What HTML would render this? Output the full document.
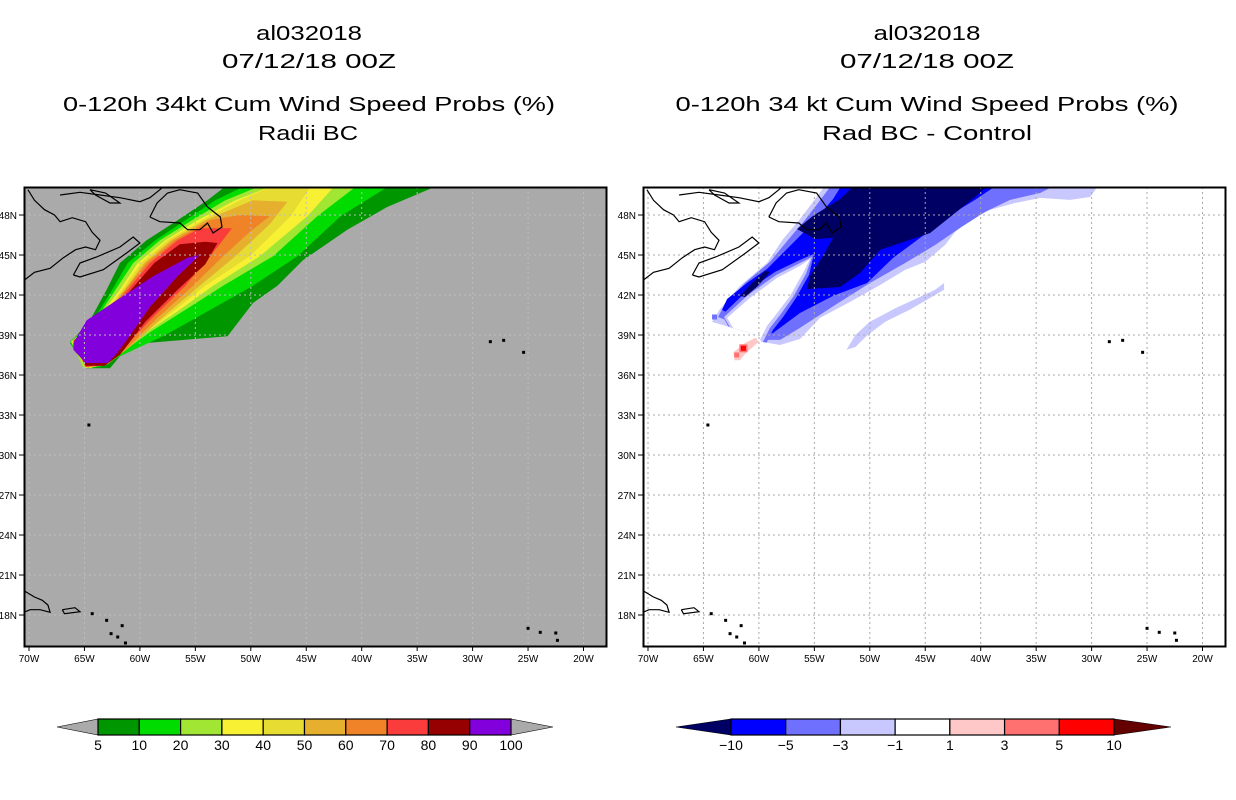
<!DOCTYPE html>
<html><head><meta charset="utf-8"><style>
html,body{margin:0;padding:0;background:#fff;}
svg{display:block;font-family:"Liberation Sans",sans-serif;}
</style></head><body>
<svg id="root" width="1236" height="800" viewBox="0 0 1236 800" xmlns="http://www.w3.org/2000/svg">
<defs>
<clipPath id="clipL"><rect x="25" y="188" width="582" height="459"/></clipPath>
<clipPath id="clipR"><rect x="644" y="188" width="582" height="459"/></clipPath>
<clipPath id="clipEnv"><polygon id="envClipPoly" points=""/></clipPath>
</defs>
<g font-size="20" text-anchor="middle" fill="#000">
<text x="309" y="40" textLength="106" lengthAdjust="spacingAndGlyphs">al032018</text>
<text x="309" y="68" textLength="174" lengthAdjust="spacingAndGlyphs">07/12/18 00Z</text>
<text x="309" y="111" textLength="492" lengthAdjust="spacingAndGlyphs">0-120h 34kt Cum Wind Speed Probs (%)</text>
<text x="308" y="140" textLength="100" lengthAdjust="spacingAndGlyphs">Radii BC</text>
</g>
<g font-size="20" text-anchor="middle" fill="#000">
<text x="927" y="40" textLength="107" lengthAdjust="spacingAndGlyphs">al032018</text>
<text x="927" y="68" textLength="174" lengthAdjust="spacingAndGlyphs">07/12/18 00Z</text>
<text x="927" y="111" textLength="503" lengthAdjust="spacingAndGlyphs">0-120h 34 kt Cum Wind Speed Probs (%)</text>
<text x="927" y="140" textLength="210" lengthAdjust="spacingAndGlyphs">Rad BC - Control</text>
</g>
<g id="panelL"></g>
<g id="panelR"></g>
<g id="cbL"></g>
<g id="cbR"></g>
</svg>
<script>
// ---- data ----
const lonTicks = [-70,-65,-60,-55,-50,-45,-40,-35,-30,-25,-20];
const lonTickLabels = ["70W","65W","60W","55W","50W","45W","40W","35W","30W","25W","20W"];
const latTicks = [18,21,24,27,30,33,36,39,42,45,48];
const latTickLabels = ["18N","21N","24N","27N","30N","33N","36N","39N","42N","45N","48N"];

const probLevels = [5,10,20,30,40,50,60,70,80,90,100];
const probColors = ["#009600","#00dc00","#a0e632","#f8f032","#e6dc32","#e6af2d","#f08228","#fa3c3c","#960000","#8200dc"];
const probContour5 = [[-66.3,38.4],[-64.5,40.1],[-63.0,42.4],[-61.8,44.4],[-59.4,46.1],[-56.6,47.6],[-53.9,49.1],[-51.9,50.4],[-32.6,50.4],[-37.7,48.6],[-41.3,46.9],[-45.3,44.6],[-47.6,42.7],[-49.8,41.4],[-52.1,38.9],[-59.4,38.4],[-61.8,37.4],[-62.7,36.5],[-64.8,36.5]];
const probContour10 = [[-66.3,38.5],[-64.2,40.1],[-62.5,42.4],[-61.1,44.4],[-58.6,46.1],[-55.9,47.6],[-53.2,49.1],[-50.0,50.4],[-37.1,50.4],[-41.9,47.9],[-45.8,44.9],[-49.8,42.7],[-53.2,41.1],[-57.7,39.0],[-61.8,37.4],[-63.6,36.6],[-65.0,36.5]];
const probContour20 = [[-66.2,38.5],[-64.0,40.1],[-62.2,42.4],[-60.6,44.4],[-58.2,46.1],[-55.3,47.6],[-52.3,49.1],[-48.5,50.4],[-40.1,50.4],[-44.0,47.9],[-48.0,44.9],[-52.5,42.7],[-55.5,41.1],[-59.1,39.2],[-62.1,37.4],[-64.0,36.6],[-65.1,36.5]];
const probContour30 = [[-66.2,38.5],[-63.9,40.1],[-61.8,42.4],[-60.2,44.4],[-57.7,46.1],[-54.8,47.6],[-51.4,49.1],[-47.4,50.4],[-42.2,50.4],[-44.9,47.9],[-49.2,44.9],[-53.4,42.7],[-56.4,40.9],[-60.0,38.9],[-62.5,37.1],[-64.5,36.5]];
const probContour40 = [[-66.1,38.5],[-63.7,40.1],[-61.6,42.4],[-59.9,44.4],[-57.5,46.1],[-54.4,47.6],[-51.0,49.1],[-47.4,50.4],[-44.4,50.4],[-46.4,47.9],[-50.1,44.9],[-54.1,42.7],[-57.1,40.7],[-60.4,38.6],[-62.7,37.0],[-64.9,36.5]];
const probContour50 = [[-66.1,38.5],[-63.6,40.1],[-61.4,42.4],[-59.6,44.4],[-57.2,46.1],[-54.1,47.6],[-49.8,49.1],[-46.7,49.0],[-48.3,47.3],[-51.4,44.9],[-54.6,42.7],[-57.7,40.5],[-60.9,38.1],[-62.9,36.8],[-64.9,36.6]];
const probContour60 = [[-66.0,38.5],[-63.5,40.1],[-61.3,42.4],[-59.4,44.4],[-56.9,46.1],[-53.7,47.6],[-51.0,48.0],[-48.3,47.9],[-50.0,46.8],[-52.5,44.9],[-55.2,42.7],[-58.4,40.3],[-61.3,37.9],[-63.1,36.8],[-64.9,36.6]];
const probContour70 = [[-66.0,38.6],[-63.4,40.1],[-61.1,42.4],[-59.1,44.4],[-56.6,46.1],[-54.6,47.0],[-51.7,47.0],[-52.8,45.8],[-53.7,44.9],[-55.9,42.7],[-59.1,40.1],[-61.6,37.9],[-63.2,36.7],[-64.9,36.6]];
const probContour80 = [[-65.9,38.6],[-63.2,40.1],[-60.8,42.4],[-58.7,44.4],[-56.4,45.8],[-54.1,46.0],[-53.0,45.9],[-54.1,44.3],[-56.6,42.4],[-59.5,40.0],[-61.8,37.5],[-63.2,36.7],[-64.9,36.7]];
const probContour90 = [[-66.0,38.4],[-64.8,40.1],[-62.1,41.6],[-58.8,43.4],[-55.7,44.8],[-54.6,45.0],[-56.6,43.4],[-59.1,41.1],[-61.2,38.6],[-62.1,37.6],[-62.9,36.9],[-64.9,36.9],[-66.0,37.9]];
const probContours = [probContour5,probContour10,probContour20,probContour30,probContour40,probContour50,probContour60,probContour70,probContour80,probContour90];

const diffLevels = [-10,-5,-3,-1,1,3,5,10];
const diffColors = ["#0000ff","#7070ff","#c8c8ff","#ffffff","#ffc8c8","#ff7070","#ff0000"];
const diffUnderColor = "#000064", diffOverColor = "#640000";
const diffEnvelope1 = [[-64.23,39.98],[-63.51,40.95],[-61.70,42.68],[-59.27,44.4],[-57.82,46.2],[-56.29,47.7],[-55.39,48.68],[-53.85,50.4],[-29.23,50.4],[-30.13,49.35],[-31.94,49.13],[-34.64,49.28],[-36.90,48.9],[-39.15,48.38],[-40.96,47.63],[-42.31,46.73],[-43.21,45.75],[-45.01,44.48],[-46.82,43.88],[-49.07,42.75],[-51.78,41.48],[-54.49,40.28],[-56.29,38.7],[-58.09,38.25],[-59.72,38.48],[-60.17,39.0]];
const diffTongue1 = [[-52.1,37.9],[-51.3,39.0],[-50.0,40.0],[-47.7,41.0],[-45.5,41.85],[-44.1,42.4],[-43.3,42.9],[-43.3,42.4],[-44.1,42.0],[-46.4,40.9],[-48.6,40.0],[-50.2,39.0],[-51.3,38.1]];
const diffEnvelope3 = [[-63.69,40.35],[-63.05,41.33],[-61.25,42.9],[-59.0,44.48],[-57.37,46.13],[-55.84,47.63],[-54.67,48.9],[-53.31,50.4],[-32.84,50.4],[-34.64,49.65],[-37.35,49.13],[-39.60,48.23],[-41.86,47.03],[-44.11,45.75],[-46.82,44.4],[-49.98,42.9],[-53.13,41.25],[-56.29,39.53],[-58.09,38.63],[-59.45,38.63],[-59.90,39.15]];
const diffEnvelope5 = [[-63.33,40.88],[-62.87,41.7],[-61.07,42.9],[-59.27,43.95],[-57.19,45.68],[-55.39,47.18],[-53.31,49.2],[-52.41,50.4],[-38.25,50.4],[-40.51,49.13],[-42.76,48.0],[-45.46,46.28],[-47.90,44.78],[-50.25,42.9],[-53.31,41.93],[-56.29,40.65],[-58.73,39.15],[-59.72,38.93],[-59.90,39.38]];
const diffGap3 = [[-63.33,40.5],[-61.16,42.23],[-58.54,43.73],[-56.29,44.63],[-55.03,45.08],[-55.48,43.5],[-56.65,41.78],[-57.82,40.35],[-58.73,39.38],[-59.36,38.33],[-61.70,38.03]];
const diffGap1 = [[-63.15,40.35],[-60.98,42.0],[-58.45,43.5],[-56.29,44.4],[-55.21,44.85],[-55.75,43.58],[-56.92,41.85],[-58.09,40.5],[-59.0,39.53],[-59.63,38.48],[-61.70,38.25]];
const diffGap0 = [[-62.87,40.28],[-60.80,41.78],[-58.36,43.28],[-56.29,44.18],[-55.39,44.7],[-56.02,43.65],[-57.19,41.93],[-58.36,40.65],[-59.27,39.68],[-59.90,38.63],[-61.70,38.63]];
const diffEnvelope10 = [[-56.56,46.95],[-55.12,47.93],[-52.68,49.2],[-51.15,50.4],[-39.15,50.4],[-40.51,49.35],[-42.31,48.15],[-44.56,46.65],[-49.07,45.38],[-50.88,43.65],[-52.68,42.6],[-55.66,42.45],[-55.39,43.43],[-54.22,44.93],[-53.31,46.28],[-54.94,46.2]];
const diffStreak10 = [[-61.70,41.93],[-60.62,42.9],[-59.45,43.8],[-59.0,43.73],[-60.08,42.68],[-61.25,41.85]];
const diffPositive1 = [[-62.2,37.1],[-62.3,37.7],[-61.25,38.4],[-60.3,38.8],[-60.0,38.5],[-61.15,37.65],[-61.7,37.1]];
const diffSpots = [[-61.4,38.0,5],[-62.0,37.5,3],[-64.0,40.35,-3]];

const coastNovaScotia = [[-66.0,43.5],[-65.4,44.4],[-63.9,44.85],[-61.8,45.6],[-60.6,46.35],[-60.0,45.9],[-61.2,45.15],[-63.3,43.9],[-65.4,43.35],[-66.0,43.5]];
const coastNewfoundland = [[-59.1,47.85],[-58.45,48.9],[-57.5,49.65],[-56.4,49.9],[-54.8,49.65],[-53.9,48.6],[-52.75,47.85],[-52.6,47.1],[-53.4,46.65],[-53.9,47.4],[-54.6,46.9],[-55.7,46.9],[-56.4,47.4],[-58.2,47.5],[-59.1,47.85]];
const coastMainland = [[-70.6,43.0],[-69.5,43.7],[-68.1,44.0],[-66.9,44.8],[-65.8,45.4],[-64.9,45.6],[-64.0,45.4],[-63.6,46.1],[-64.3,46.7],[-64.9,47.5],[-66.1,47.8],[-67.2,47.5],[-67.7,48.0],[-68.6,48.4],[-69.5,49.1],[-70.1,49.9]];
const coastLabrador = [[-67.2,49.5],[-65.4,49.7],[-63.6,49.5],[-61.8,49.3],[-60.0,49.0],[-59.1,49.3],[-58.2,49.9],[-57.3,50.6]];
const coastAnticosti = [[-64.5,49.9],[-63.1,49.65],[-61.8,48.9],[-62.7,48.9],[-64.0,49.5],[-64.5,49.9]];
const coastHispaniola = [[-70.6,19.9],[-69.5,19.35],[-68.8,19.1],[-68.3,18.75],[-68.1,18.2],[-69.0,18.4],[-69.9,18.4],[-70.6,18.15]];
const coastPuertoRico = [[-67.0,18.4],[-65.85,18.55],[-65.4,18.25],[-66.8,18.1],[-67.0,18.4]];
const islandDots = [[-64.6,32.25],[-28.4,38.5],[-27.2,38.6],[-25.4,37.7],[-63.0,17.6],[-62.6,16.6],[-62.0,16.35],[-61.6,17.2],[-61.3,15.9],[-25.0,17.0],[-23.9,16.7],[-22.5,16.65],[-22.35,16.1],[-64.3,18.1]];

// ---- drawing ----
const NS = "http://www.w3.org/2000/svg";
function mk(tag, attrs, parent){ const e=document.createElementNS(NS,tag); for(const k in attrs) e.setAttribute(k,attrs[k]); parent.appendChild(e); return e; }
function makeProj(x0){ return { x: lon => x0 + (lon+70)*11.09, y: lat => 215 + (48-lat)*13.333 }; }
function pts(p, poly){ return poly.map(q => p.x(q[0]).toFixed(1)+","+p.y(q[1]).toFixed(1)).join(" "); }

function drawFrameAndAxes(g, p, left, gridColor, clipId){
  const top=187, bottom=647, right=left+583;
  const grid = mk("g",{"stroke":gridColor,"stroke-width":1,"stroke-dasharray":"2,3","fill":"none"},g);
  
  
  lonTicks.forEach(l => { const x=p.x(l); mk("line",{x1:x,y1:top,x2:x,y2:bottom},grid); });
  latTicks.forEach(l => { const y=p.y(l); mk("line",{x1:left,y1:y,x2:right,y2:y},grid); });
  const coast = mk("g",{"stroke":"#000","stroke-width":1.2,"fill":"none","clip-path":"url(#"+clipId+")"},g);
  
  
  [coastNovaScotia,coastNewfoundland,coastMainland,coastLabrador,coastAnticosti,coastHispaniola,coastPuertoRico].forEach(c => mk("polyline",{points:pts(p,c)},coast));
  islandDots.forEach(d => mk("rect",{x:p.x(d[0])-1.5,y:p.y(d[1])-1.5,width:3,height:3,fill:"#000",stroke:"none"},coast));
  const frame = mk("rect",{x:left+0.5,y:top+0.5,width:582,height:459,fill:"none",stroke:"#000","stroke-width":2},g);
  
  
  const ax = mk("g",{"font-size":10,"fill":"#000"},g);
  
  
  latTicks.forEach((l,i) => {
    const y=p.y(l);
    mk("line",{x1:left-5,y1:y,x2:left,y2:y,stroke:"#000"},ax);
    const t=mk("text",{x:left-7,y:y+4,"text-anchor":"end"},ax); t.textContent=latTickLabels[i];
    
    
  });
  lonTicks.forEach((l,i) => {
    const x=p.x(l);
    mk("line",{x1:x,y1:bottom,x2:x,y2:bottom+4,stroke:"#000"},ax);
    const t=mk("text",{x:x,y:bottom+15,"text-anchor":"middle"},ax); t.textContent=lonTickLabels[i];
    
    
  });
}

// left panel
(function(){
  const g=document.getElementById("panelL"), p=makeProj(29);
  const bg=mk("rect",{x:25,y:188,width:582,height:459,fill:"#aaaaaa"},g);
  
  
  const cg=mk("g",{"clip-path":"url(#clipL)"},g);
  probContours.forEach((c,i) => {
    const poly=mk("polygon",{points:pts(p,c),fill:probColors[i]},cg);
    
    
  });
  drawFrameAndAxes(g,p,24,"#bdbdbd","clipL");
})();

// right panel
(function(){
  const g=document.getElementById("panelR"), p=makeProj(648);
  document.getElementById("envClipPoly").setAttribute("points", pts(p,diffEnvelope1));
  const cg=mk("g",{"clip-path":"url(#clipR)"},g);
  const base=[[diffEnvelope1,diffColors[2],'diff-fill-minus1'],[diffTongue1,diffColors[2],'diff-fill-minus1-tongue'],
    [diffEnvelope3,diffColors[1],'diff-fill-minus3'],[diffEnvelope5,diffColors[0],'diff-fill-minus5']];
  base.forEach(L => {
    const poly=mk("polygon",{points:pts(p,L[0]),fill:L[1]},cg);
    
    
  });
  const vg=mk("g",{"clip-path":"url(#clipEnv)"},cg);
  [[diffGap3,diffColors[1],'diff-gap-minus3'],[diffGap1,diffColors[2],'diff-gap-minus1'],[diffGap0,"#ffffff",'diff-gap-zero']].forEach(L => {
    const poly=mk("polygon",{points:pts(p,L[0]),fill:L[1]},vg);
    
    
  });
  [[diffEnvelope10,diffUnderColor,'diff-fill-minus10'],[diffStreak10,diffUnderColor,'diff-fill-minus10-streak'],[diffPositive1,diffColors[4],'diff-fill-plus1']].forEach(L => {
    const poly=mk("polygon",{points:pts(p,L[0]),fill:L[1]},cg);
    
    
  });
  diffSpots.forEach(s => {
    const col = s[2]>=5 ? diffColors[6] : s[2]>=3 ? diffColors[5] : diffColors[1];
    if(s[2]>=5) mk("rect",{x:p.x(s[0])-4,y:p.y(s[1])-4,width:8,height:8,fill:diffColors[5]},cg);
    const r=mk("rect",{x:p.x(s[0])-2.5,y:p.y(s[1])-2.5,width:5,height:5,fill:col},cg);
    
    
  });
  drawFrameAndAxes(g,p,643,"#a8a8a8","clipR");
})();

// colorbars
function colorbar(g, x0, x1, tipL, tipR, colors, labels, underCol, overCol){
  const y0=719, y1=735, ym=727, n=colors.length, w=(x1-x0)/n;
  const a=mk("polygon",{points:`${tipL},${ym} ${x0},${y0} ${x0},${y1}`,fill:underCol,stroke:"#000","stroke-width":0.6},g);
  
  
  const b=mk("polygon",{points:`${tipR},${ym} ${x1},${y0} ${x1},${y1}`,fill:overCol,stroke:"#000","stroke-width":0.6},g);
  
  
  colors.forEach((c,i) => {
    const r=mk("rect",{x:x0+i*w,y:y0,width:w,height:y1-y0,fill:c,stroke:"#000","stroke-width":1.2},g);
    
    
  });
  labels.forEach((l,i) => {
    const t=mk("text",{x:x0+i*w,y:750,"text-anchor":"middle","font-size":14,fill:"#000"},g);
    t.textContent = String(l).replace("-","\u2212");
    
    
  });
}
colorbar(document.getElementById("cbL"),98,511,57,553,probColors,probLevels,"#aaaaaa","#aaaaaa");
colorbar(document.getElementById("cbR"),731,1114,676,1171,diffColors,diffLevels,diffUnderColor,diffOverColor);
</script>
</body></html>
